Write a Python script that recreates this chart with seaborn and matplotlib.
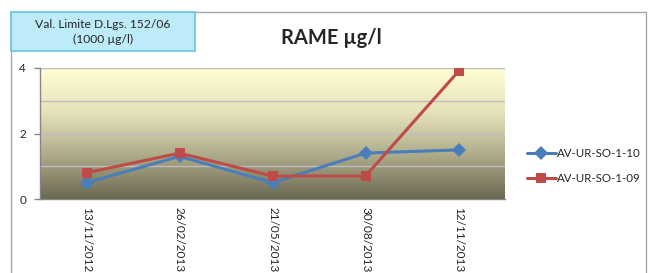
import numpy as np
import pandas as pd
import seaborn as sns
import matplotlib.pyplot as plt
from matplotlib.colors import LinearSegmentedColormap
from matplotlib.patches import Rectangle, FancyBboxPatch

# Data
dates = ['13/11/2012', '26/02/2013', '21/05/2013', '30/08/2013', '12/11/2013']
so_1_10 = [0.5, 1.3, 0.5, 1.4, 1.5]
so_1_09 = [0.8, 1.4, 0.7, 0.7, 3.9]
series_names = ['AV-UR-SO-1-10', 'AV-UR-SO-1-09']

df = pd.DataFrame({
    'date': dates * 2,
    'value': so_1_10 + so_1_09,
    'series': [series_names[0]] * len(dates) + [series_names[1]] * len(dates),
})

sns.set_style('white')
plt.rcParams['font.family'] = ['Lato', 'DejaVu Sans']

fig = plt.figure(figsize=(6.52, 2.73), dpi=100)
W, H = 652, 273

# outer chart border
fig.patches.append(Rectangle((11 / W, -0.1), (646 - 11) / W, (273 - 12) / H + 0.1,
                             transform=fig.transFigure, fill=False,
                             edgecolor='#a8a8a8', linewidth=1.0))

ax = fig.add_axes([40 / W, (273 - 199) / H, 465 / W, 131 / H])

# gradient background of the plot area (pale yellow on top, dark olive at bottom)
cmap = LinearSegmentedColormap.from_list('bg', ['#fffdd2', '#e6e3bb', '#aeab8a', '#6b6852'])
grad = np.linspace(0, 1, 256).reshape(-1, 1)
ax.imshow(grad, cmap=cmap, aspect='auto', extent=[0, 1, 0, 1],
          transform=ax.transAxes, zorder=0)

palette = {series_names[0]: '#4a7ebb', series_names[1]: '#be4b48'}
markers = {series_names[0]: 'D', series_names[1]: 's'}
sns.lineplot(data=df, x='date', y='value', hue='series', style='series',
             palette=palette, markers=markers, dashes=False, linewidth=2.2,
             markersize=7, markeredgewidth=0, sort=False, ax=ax, zorder=3)

ax.set_xlim(-0.5, 4.5)
ax.set_ylim(0, 4)
ax.set_xlabel('')
ax.set_ylabel('')

# gridlines
for g in [1, 2, 3, 4]:
    ax.axhline(g, color='#bdbdbd', linewidth=1.0, zorder=1)

ax.set_yticks([0, 2, 4])
ax.set_yticklabels(['0', '2', '4'], fontsize=8.5)
ax.set_xticks(range(len(dates)))
ax.set_xticklabels(dates, rotation=-90, fontsize=8.5, va='top', ha='center')
ax.set_xticks(np.arange(-0.5, 5, 1), minor=True)
ax.tick_params(axis='x', which='major', length=0, pad=6)
ax.tick_params(axis='x', which='minor', length=4, color='#868686', width=1, direction='out')
ax.tick_params(axis='y', length=4, color='#868686', width=1, direction='out', pad=6, left=True)

for s in ['top', 'right']:
    ax.spines[s].set_visible(False)
for s in ['left', 'bottom']:
    ax.spines[s].set_color('#868686')
    ax.spines[s].set_linewidth(1.0)

leg = ax.legend(loc='center left', bbox_to_anchor=(1.037, 0.25), frameon=False,
                fontsize=8.3, handlelength=2.5, handletextpad=0.1,
                labelspacing=1.2, borderaxespad=0)
for h in leg.legend_handles:
    h.set_linewidth(2.2)

# title
fig.text(331 / W, 1 - 38 / H, 'RAME µg/l', fontsize=14.5, fontweight='bold',
         ha='center', va='center')

# limit value box
box = FancyBboxPatch((11 / W, 1 - 51 / H), (195 - 11) / W, (51 - 12) / H,
                     boxstyle='square,pad=0', transform=fig.transFigure,
                     facecolor='#bdebfa', edgecolor='#6cc3dc', linewidth=1.2)
fig.patches.append(box)
fig.text(103 / W, 1 - 32 / H, 'Val. Limite D.Lgs. 152/06\n(1000 µg/l)',
         fontsize=8.7, ha='center', va='center', linespacing=1.4)

fig.savefig('out.png', dpi=100)
